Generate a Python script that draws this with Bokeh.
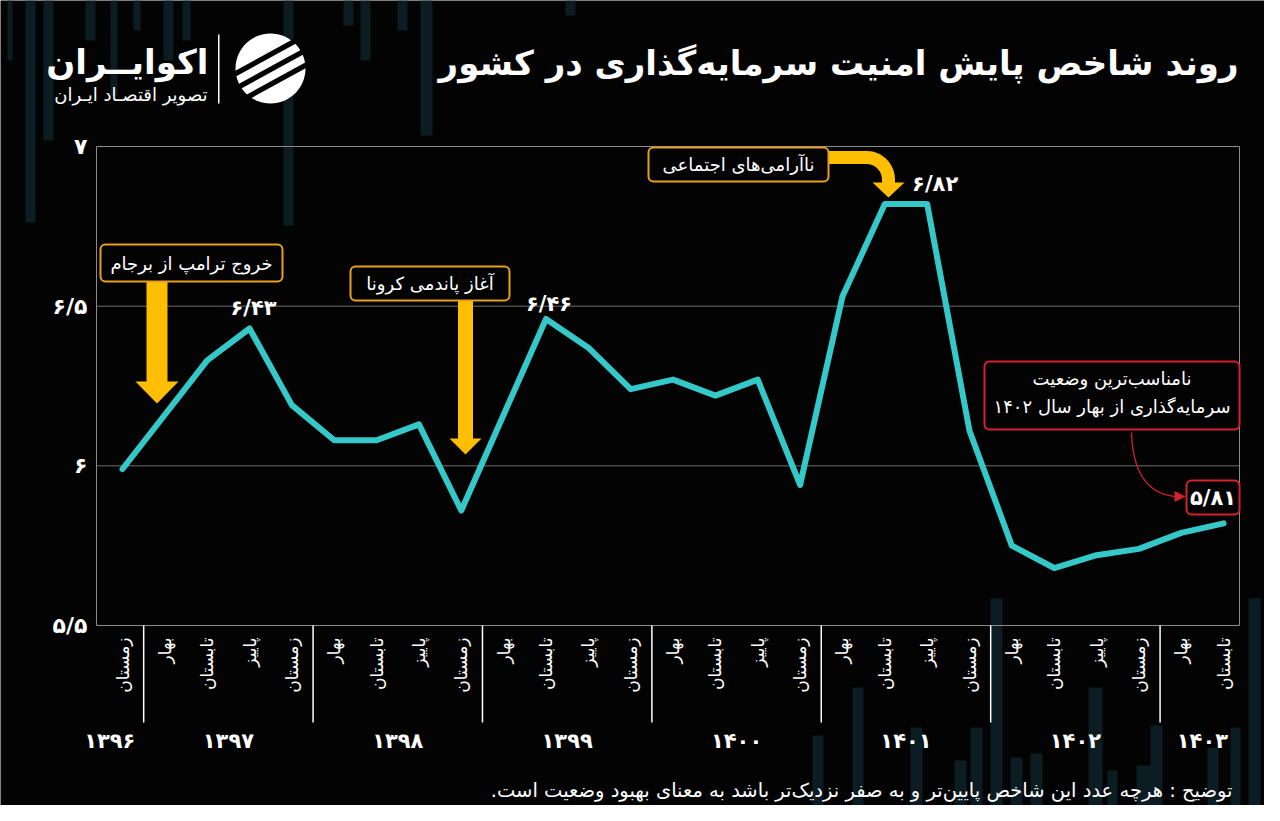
import math
from bokeh.plotting import figure
from bokeh.models import Label, BoxAnnotation, Range1d
from bokeh.core.properties import value
from bokeh.embed import file_html
from bokeh.resources import INLINE

# ---------------- data ----------------
seasons = ["زمستان",
           "بهار", "تابستان", "پاییز", "زمستان",
           "بهار", "تابستان", "پاییز", "زمستان",
           "بهار", "تابستان", "پاییز", "زمستان",
           "بهار", "تابستان", "پاییز", "زمستان",
           "بهار", "تابستان", "پاییز", "زمستان",
           "بهار", "تابستان", "پاییز", "زمستان",
           "بهار", "تابستان"]
years = [1396,
         1397, 1397, 1397, 1397,
         1398, 1398, 1398, 1398,
         1399, 1399, 1399, 1399,
         1400, 1400, 1400, 1400,
         1401, 1401, 1401, 1401,
         1402, 1402, 1402, 1402,
         1403, 1403]
values = [5.99, 6.16, 6.33, 6.43, 6.19, 6.08, 6.08, 6.13, 5.86,
          6.16, 6.46, 6.37, 6.24, 6.27, 6.22, 6.27, 5.94,
          6.53, 6.82, 6.82, 6.11, 5.75, 5.68, 5.72, 5.74, 5.79, 5.82]
y_ticks = [5.5, 6.0, 6.5, 7.0]
labelled_points = [3, 10, 19]
last_value_text = "5.81"

title_text = "روند شاخص پایش امنیت سرمایه‌گذاری در کشور"
brand_text = "اکوایــران"
brand_sub = "تصویر اقتصـاد ایـران"
note_text = "توضیح : هرچه عدد این شاخص پایین‌تر و به صفر نزدیک‌تر باشد به معنای بهبود وضعیت است.\u200f"
event1 = "خروج ترامپ از برجام"
event2 = "آغاز پاندمی کرونا"
event3 = "ناآرامی‌های اجتماعی"
worst1 = "نامناسب‌ترین وضعیت"
worst2 = "سرمایه‌گذاری از بهار سال ۱۴۰۲"

FA = str.maketrans("0123456789.", "۰۱۲۳۴۵۶۷۸۹/")
def fa(s):
    return str(s).translate(FA)

# ---------------- style ----------------
BG = "#030303"
CYAN = "#35c8c9"
YEL = "#ffbf00"
ORANGE = "#e6a01e"
RED = "#d6222c"
FRAME = "#8c8c8c"
GRID = "#6f6f6f"
DECO = "#0b1c23"
FONT = "DejaVu Sans"
W, H = 1264, 805

# page-pixel -> data helpers (used only to place decorations / annotations)
SX = 42.35                      # px per category
X0 = 122.0                      # page x of first category
PPU = (625.0 - 146.0) / 1.5     # px per index unit
def dx(px):
    return (px - X0) / SX
def dy(py):
    return 7.0 - (py - 146.0) / PPU
def poly(pts):
    return [dx(a) for a, _ in pts], [dy(b) for _, b in pts]

p = figure(width=W, height=H, output_backend="svg", toolbar_location=None,
           x_range=Range1d(dx(0), dx(W)), y_range=Range1d(dy(H), dy(0)),
           x_axis_type=None, y_axis_type=None, min_border=0,
           background_fill_color=BG, border_fill_color=BG, outline_line_color=None)
p.grid.visible = False

# decorative faint bars (page pixels: left, right, top, bottom)
deco = [(7, 12, 0, 60), (25, 35, 0, 222), (43, 53, 0, 140), (85, 95, 0, 40),
        (110, 117, 0, 95), (133, 140, 0, 30), (163, 173, 0, 60), (182, 190, 0, 40),
        (283, 293, 0, 225), (343, 353, 0, 25), (360, 370, 0, 60), (397, 407, 0, 30),
        (420, 432, 0, 135), (565, 575, 0, 15),
        (812, 823, 735, 821), (852, 863, 687, 821), (910, 922, 727, 821),
        (954, 966, 760, 821), (970, 982, 727, 821), (990, 1002, 598, 821),
        (1010, 1022, 757, 821), (1030, 1042, 753, 821), (1088, 1102, 687, 821),
        (1107, 1117, 770, 821), (1136, 1152, 765, 821), (1150, 1162, 725, 821),
        (1207, 1218, 747, 821), (1230, 1240, 727, 821), (1248, 1260, 598, 821)]
p.quad(left=[dx(d[0]) for d in deco], right=[dx(d[1]) for d in deco],
       top=[dy(d[2]) for d in deco], bottom=[dy(d[3]) for d in deco],
       fill_color=DECO, line_color=None)

# ---------------- header ----------------
p.add_layout(Label(x=dx(1238), y=dy(62), text=title_text, text_align="right",
                   text_baseline="middle", text_color="white", text_font=FONT,
                   text_font_style="bold", text_font_size="34px"))
p.add_layout(Label(x=dx(208), y=dy(61), text=brand_text, text_align="right",
                   text_baseline="middle", text_color="white", text_font=FONT,
                   text_font_style="bold", text_font_size="34px"))
p.add_layout(Label(x=dx(207), y=dy(94), text=brand_sub, text_align="right",
                   text_baseline="middle", text_color="white", text_font=FONT,
                   text_font_size="18px"))
xs, ys = poly([(217.5, 34), (219, 34), (219, 103), (217.5, 103)])
p.patch(xs, ys, fill_color="white", line_color=None)
cx0, cy0, rr = 270, 68, 35
xs, ys = poly([(cx0 + rr * math.cos(2 * math.pi * k / 60), cy0 + rr * math.sin(2 * math.pi * k / 60))
               for k in range(60)])
p.patch(xs, ys, fill_color="white", line_color=None)
for off in (-15, 0, 15):
    xs, ys = poly([(228, 92 + off - 3), (312, 46 + off - 3), (312, 46 + off + 3), (228, 92 + off + 3)])
    p.patch(xs, ys, fill_color=BG, line_color=None)

# ---------------- plot area: grid, frame, y tick labels ----------------
x_idx = list(range(len(values)))
area_l, area_r = dx(96), dx(1239)
inner = [t for t in y_ticks if min(y_ticks) < t < max(y_ticks)]
p.segment(x0=area_l, x1=area_r, y0=inner, y1=inner, line_color=GRID, line_width=1)
p.quad(left=area_l, right=area_r, top=max(y_ticks), bottom=min(y_ticks),
       fill_color=None, line_color=FRAME, line_width=1)
p.text(x=dx(87), y=y_ticks, text=[fa(f"{v:g}") for v in y_ticks], text_align="right",
       text_baseline="middle", text_color="white", text_font=value(FONT),
       text_font_style="bold", text_font_size="22px")

# category labels, year separators, year labels
p.text(x=x_idx, y=dy(637), text=seasons, angle=math.pi / 2, text_align="right",
       text_baseline="middle", text_color="white", text_font=value(FONT),
       text_font_size="17px")
bounds = [i + 0.5 for i in range(len(years) - 1) if years[i] != years[i + 1]]
p.segment(x0=bounds, x1=bounds, y0=dy(625), y1=dy(722), line_color="white", line_width=1.5)
uy = sorted(set(years))
ycent = [sum(i for i, y in enumerate(years) if y == yv) / years.count(yv) for yv in uy]
ycent[0] -= 0.3
p.text(x=ycent, y=dy(740), text=[fa(yv) for yv in uy], text_align="center",
       text_baseline="middle", text_color="white", text_font=value(FONT),
       text_font_style="bold", text_font_size="21px")

# ---------------- yellow arrows ----------------
a1 = [(146, 281), (167, 281), (167, 381), (178, 381), (156.5, 403), (135, 381), (146, 381)]
a2 = [(457.5, 300), (472.5, 300), (472.5, 438), (481, 438), (465, 454), (449, 438), (457.5, 438)]
a3h = [(872, 182), (904, 182), (888, 197)]
for pts in (a1, a2, a3h):
    xs, ys = poly(pts)
    p.patch(xs, ys, fill_color=YEL, line_color=None)
path = [(828, 157), (866, 157)]
for k in range(1, 13):
    t = (math.pi / 2) * k / 12
    path.append((866 + 22 * math.sin(t), 179 - 22 * math.cos(t)))
path.append((888, 184))
xs, ys = poly(path)
p.line(xs, ys, line_color=YEL, line_width=13, line_cap="butt", line_join="round")

# ---------------- main line ----------------
p.line(x_idx, values, line_color=CYAN, line_width=6, line_join="round", line_cap="round")

offsets = {3: (4, 21), 10: (3, 15), 19: (8, 20)}
for i in labelled_points:
    ox, oy = offsets[i]
    p.add_layout(Label(x=i, y=values[i], x_offset=ox, y_offset=oy, text=fa(f"{values[i]:.2f}"),
                       text_align="center", text_baseline="middle", text_color="white",
                       text_font=FONT, text_font_style="bold", text_font_size="21px"))

# red curved pointer
P0, C, P1 = (1131, 432), (1133, 493), (1176, 496)
curve = []
for k in range(25):
    t = k / 24
    curve.append(((1 - t) ** 2 * P0[0] + 2 * (1 - t) * t * C[0] + t ** 2 * P1[0],
                  (1 - t) ** 2 * P0[1] + 2 * (1 - t) * t * C[1] + t ** 2 * P1[1]))
xs, ys = poly(curve)
p.line(xs, ys, line_color=RED, line_width=1.3)
xs, ys = poly([(1174, 490.5), (1174, 501.5), (1185, 496)])
p.patch(xs, ys, fill_color=RED, line_color=None)

# ---------------- boxes ----------------
def box(l, t, r, b, color, txt=None, size="18px", bold=False):
    p.add_layout(BoxAnnotation(left=dx(l), right=dx(r), top=dy(t), bottom=dy(b),
                               fill_color=BG, fill_alpha=1, line_color=color,
                               line_alpha=1, line_width=2, border_radius=5))
    if txt is not None:
        p.add_layout(Label(x=dx((l + r) / 2), y=dy((t + b) / 2), text=txt,
                           text_align="center", text_baseline="middle",
                           text_color="white", text_font=FONT,
                           text_font_style="bold" if bold else "normal",
                           text_font_size=size))

box(100, 244, 282, 281, ORANGE, event1)
box(350, 266, 509, 300, ORANGE, event2)
box(648, 147, 828, 181, ORANGE, event3)
box(984, 361, 1239, 429, RED)
for txt, yy in ((worst1, 378), (worst2, 406)):
    p.add_layout(Label(x=dx(1111.5), y=dy(yy), text=txt, text_align="center",
                       text_baseline="middle", text_color="white", text_font=FONT,
                       text_font_size="18px"))
box(1186, 480, 1239, 514, RED, fa(last_value_text), size="21px", bold=True)

# footnote
p.add_layout(Label(x=dx(1232), y=dy(790), text=note_text, text_align="right",
                   text_baseline="middle", text_color="white", text_font=FONT,
                   text_font_size="19.5px"))

open("out.html", "w").write(file_html(p, INLINE))
